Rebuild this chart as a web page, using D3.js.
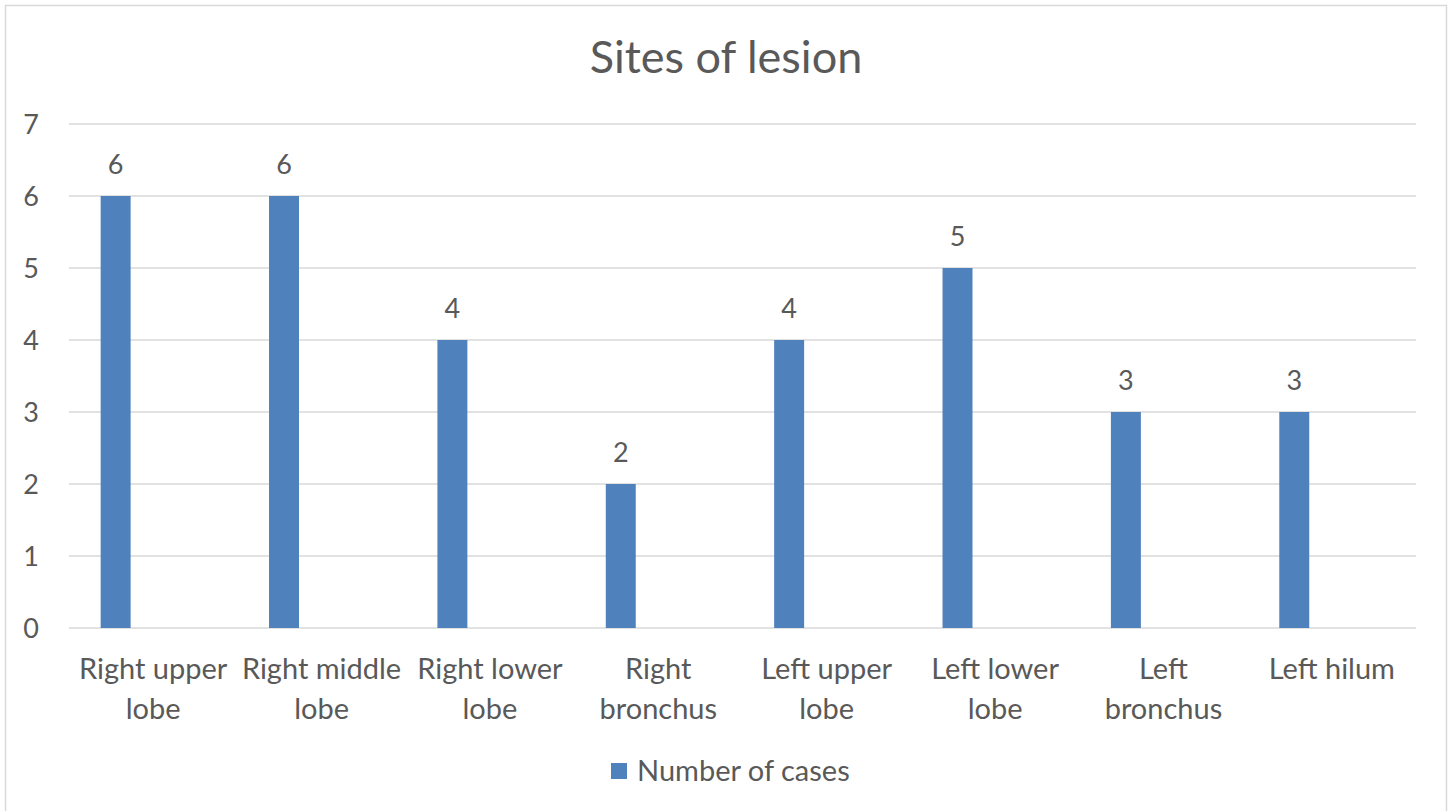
<!DOCTYPE html>
<html>
<head>
<meta charset="utf-8">
<script src="https://cdn.jsdelivr.net/npm/d3@7"></script>
<style>
  body { margin: 0; background: #fff; }
  text { font-family: Lato, "Open Sans", sans-serif; fill: #595959; }
</style>
</head>
<body>
<svg id="chart" width="1452" height="811"></svg>
<script>
var categories = ["Right upper lobe", "Right middle lobe", "Right lower lobe", "Right bronchus",
  "Left upper lobe", "Left lower lobe", "Left bronchus", "Left hilum"];
var cases = [6, 6, 4, 2, 4, 5, 3, 3];
var yTicks = [0, 1, 2, 3, 4, 5, 6, 7];
var seriesName = "Number of cases";
var title = "Sites of lesion";

var svg = d3.select("#chart");
var plotL = 69, plotR = 1416, plotT = 124, plotB = 628;
var barColor = "#4F81BD";

// outer chart border
svg.append("rect")
  .attr("x", 5.5).attr("y", 5.5)
  .attr("width", 1441).attr("height", 810)
  .attr("fill", "#fff")
  .attr("stroke", "#D9D9D9")
  .attr("stroke-width", 1.5);

var x = d3.scaleBand().domain(categories).range([plotL, plotR]);
var y = d3.scaleLinear().domain([0, 7]).range([plotB, plotT]);

// gridlines
svg.append("g").selectAll("line")
  .data(yTicks)
  .enter().append("line")
  .attr("x1", plotL).attr("x2", plotR)
  .attr("y1", function(d){ return y(d); })
  .attr("y2", function(d){ return y(d); })
  .attr("stroke", "#D9D9D9")
  .attr("stroke-width", 1.5);

// y labels
svg.append("g").selectAll("text")
  .data(yTicks)
  .enter().append("text")
  .attr("x", 39)
  .attr("y", function(d){ return y(d); })
  .attr("dy", "0.36em")
  .attr("text-anchor", "end")
  .attr("font-size", "27px")
  .text(function(d){ return d; });

// bars, sitting at the left of each group slot like the original
var bw = x.bandwidth();
var barOff = bw * 0.188, barW = bw * 0.178;
svg.append("g").selectAll("rect")
  .data(cases)
  .enter().append("rect")
  .attr("x", function(d, i){ return x(categories[i]) + barOff; })
  .attr("y", function(d){ return y(d); })
  .attr("width", barW)
  .attr("height", function(d){ return y(0) - y(d); })
  .attr("fill", barColor);

// data labels
svg.append("g").selectAll("text")
  .data(cases)
  .enter().append("text")
  .attr("x", function(d, i){ return x(categories[i]) + barOff + barW / 2; })
  .attr("y", function(d){ return y(d) - 22; })
  .attr("text-anchor", "middle")
  .attr("font-size", "27px")
  .text(function(d){ return d; });

// category labels, wrapped to band width
var catG = svg.append("g");
categories.forEach(function(c){
  var t = catG.append("text")
    .attr("text-anchor", "middle")
    .attr("font-size", "29px");
  var cx = x(c) + bw / 2;
  var words = c.split(" ");
  var lines = [], line = [];
  var probe = t.append("tspan");
  words.forEach(function(w){
    line.push(w);
    probe.text(line.join(" "));
    if (probe.node().getComputedTextLength() > bw - 4 && line.length > 1) {
      line.pop();
      lines.push(line.join(" "));
      line = [w];
    }
  });
  lines.push(line.join(" "));
  probe.remove();
  lines.forEach(function(l, k){
    t.append("tspan")
      .attr("x", cx)
      .attr("y", 679 + k * 40)
      .text(l);
  });
});

// title
svg.append("text")
  .attr("x", 726).attr("y", 73)
  .attr("text-anchor", "middle")
  .attr("font-size", "45px")
  .text(title);

// legend
svg.append("rect")
  .attr("x", 611).attr("y", 763)
  .attr("width", 16).attr("height", 16)
  .attr("fill", barColor);
svg.append("text")
  .attr("x", 637).attr("y", 771)
  .attr("dy", "0.36em")
  .attr("font-size", "29px")
  .text(seriesName);
</script>
</body>
</html>
